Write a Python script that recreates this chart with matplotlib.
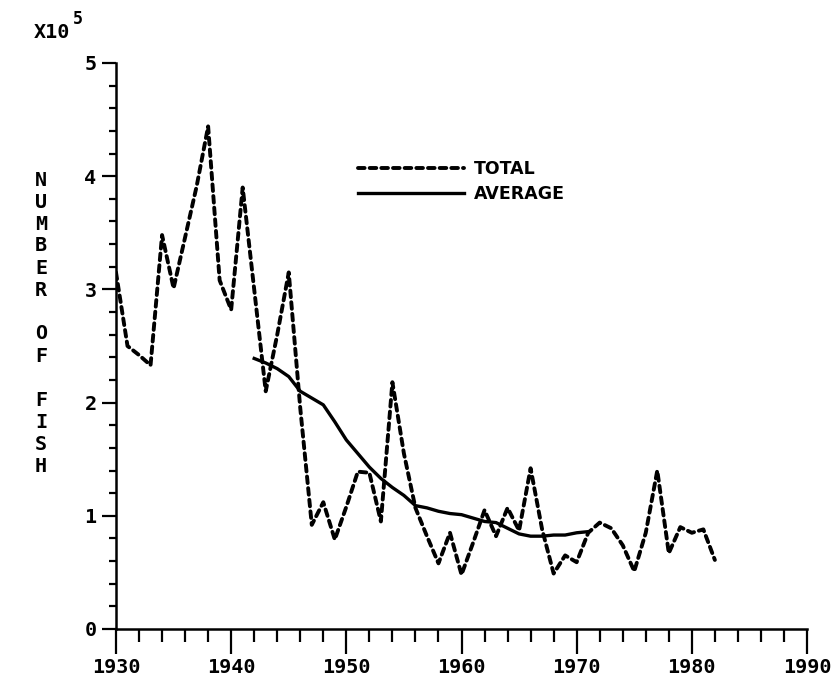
import numpy as np
import matplotlib.pyplot as plt
from matplotlib.ticker import MultipleLocator

# annual catch, units of 1e5 fish
years = list(range(1930, 1983))
total = [3.15, 2.50, 2.42, 2.33, 3.48, 3.01, 3.46, 3.91, 4.44, 3.08,
         2.82, 3.90, 3.00, 2.10, 2.60, 3.15, 1.95, 0.92, 1.12, 0.79,
         1.08, 1.39, 1.38, 0.95, 2.18, 1.55, 1.07, 0.82, 0.58, 0.85,
         0.48, 0.76, 1.05, 0.82, 1.07, 0.87, 1.42, 0.88, 0.49, 0.65,
         0.59, 0.85, 0.94, 0.89, 0.74, 0.51, 0.85, 1.40, 0.67, 0.90,
         0.85, 0.88, 0.61]
avg_years = list(range(1942, 1972))
average = [2.39, 2.35, 2.30, 2.23, 2.10, 2.04, 1.98, 1.83, 1.67, 1.55,
           1.43, 1.33, 1.25, 1.18, 1.09, 1.07, 1.04, 1.02, 1.01, 0.98,
           0.95, 0.94, 0.89, 0.84, 0.82, 0.82, 0.83, 0.83, 0.85, 0.86]
x_ticks = [1930, 1940, 1950, 1960, 1970, 1980, 1990]
y_ticks = [0, 1, 2, 3, 4, 5]
ylabel = "NUMBER OF FISH"

W, H = 838, 683
fig = plt.figure(figsize=(W / 100, H / 100), dpi=100)
ax = fig.add_axes([116 / W, 1 - 629 / H, 691 / W, 566 / H])

mono = "DejaVu Sans Mono"

ax.plot(years, total, color="black", lw=2.8, linestyle=(0, (1.7, 1.3)),
        dash_capstyle="round", label="TOTAL")
ax.plot(avg_years, average, color="black", lw=2.4, label="AVERAGE")

ax.set_xlim(1930, 1990)
ax.set_ylim(0, 5)
ax.set_xticks(x_ticks)
ax.set_xticklabels([str(t) for t in x_ticks])
ax.set_yticks(y_ticks)
ax.set_yticklabels([str(t) for t in y_ticks])
ax.xaxis.set_minor_locator(MultipleLocator(2))
ax.yaxis.set_minor_locator(MultipleLocator(0.2))

for s in ["top", "right"]:
    ax.spines[s].set_visible(False)
for s in ["left", "bottom"]:
    ax.spines[s].set_linewidth(1.8)

ax.tick_params(axis="x", which="major", direction="out", length=18, width=1.6, pad=3)
ax.tick_params(axis="x", which="minor", direction="out", length=9, width=1.6)
ax.tick_params(axis="y", which="major", direction="out", length=10, width=1.6, pad=4)
ax.tick_params(axis="y", which="minor", direction="out", length=5, width=1.6)
for lab in ax.get_xticklabels() + ax.get_yticklabels():
    lab.set_fontfamily(mono)
    lab.set_fontweight("bold")
    lab.set_fontsize(14.5)

leg = ax.legend(loc="upper left", bbox_to_anchor=(0.35, 0.829), frameon=False,
                handlelength=6.1, handletextpad=0.6, labelspacing=0.4,
                borderpad=0, borderaxespad=0,
                prop={"family": "DejaVu Sans", "weight": "bold", "size": 12.5})

# exponent at top left
fig.text(34 / W, 1 - 32 / H, "X1" + "0", fontfamily=mono, fontweight="bold",
         fontsize=14.5, va="center", ha="left")
fig.text(73 / W, 1 - 19 / H, "5", fontfamily=mono, fontweight="bold",
         fontsize=12, va="center", ha="left")

# stacked y label
for i, ch in enumerate(ylabel):
    if ch != " ":
        fig.text(41 / W, 1 - (180 + 22 * i) / H, ch, fontfamily=mono,
                 fontweight="bold", fontsize=14.5, ha="center", va="center")

plt.savefig("out.png", dpi=100)
